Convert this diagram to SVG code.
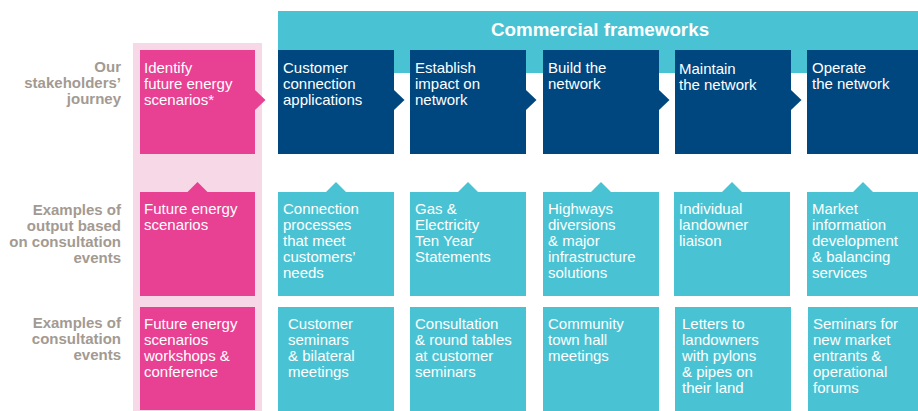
<svg xmlns="http://www.w3.org/2000/svg" width="918" height="411" viewBox="0 0 918 411">
<style>
.lbl{font-family:"Liberation Sans",Arial,sans-serif;font-weight:bold;font-size:15px;fill:#A39A92;text-anchor:end}
.t{font-family:"Liberation Sans",Arial,sans-serif;font-size:15px;fill:#FFFFFF}
.ttl{font-family:"Liberation Sans",Arial,sans-serif;font-weight:bold;font-size:18.8px;fill:#FFFFFF;text-anchor:middle}
.pink{fill:#E84093}
.navy{fill:#00477F}
.cyan{fill:#49C3D3}
</style>
<rect width="918" height="411" fill="#FFFFFF"/>
<g id="pink-column"><rect x="133" y="43" width="129" height="368" fill="#F7D8E7"/></g>
<g id="commercial-frameworks">
<rect x="278" y="11" width="640" height="62" class="cyan"/>
<text x="600" y="36" class="ttl">Commercial frameworks</text>
</g>
<g id="labels">
<text class="lbl"><tspan x="121" y="72">Our</tspan><tspan x="121" y="88">stakeholders’</tspan><tspan x="121" y="104">journey</tspan></text>
<text class="lbl"><tspan x="121" y="215">Examples of</tspan><tspan x="121" y="231">output based</tspan><tspan x="121" y="247">on consultation</tspan><tspan x="121" y="263">events</tspan></text>
<text class="lbl"><tspan x="121" y="328">Examples of</tspan><tspan x="121" y="344">consultation</tspan><tspan x="121" y="360">events</tspan></text>
</g>
<g id="connectors">
<polygon class="pink" points="255,90 265.5,100 255,110"/>
<polygon class="navy" points="394,90 404.5,100 394,110"/>
<polygon class="navy" points="526,90 536.5,100 526,110"/>
<polygon class="navy" points="659,90 669.5,100 659,110"/>
<polygon class="navy" points="791,90 801.5,100 791,110"/>
<polygon class="pink" points="187.5,192 197.5,182 207.5,192"/>
<polygon class="cyan" points="326,192 336,182 346,192"/>
<polygon class="cyan" points="458,192 468,182 478,192"/>
<polygon class="cyan" points="591,192 601,182 611,192"/>
<polygon class="cyan" points="722,192 732,182 742,192"/>
<polygon class="cyan" points="853,192 863,182 873,192"/>
</g>
<g id="n-identify"><rect x="140" y="50" width="115" height="104" class="pink"/><text class="t"><tspan x="144" y="73">Identify</tspan><tspan x="144" y="89">future energy</tspan><tspan x="144" y="105">scenarios*</tspan></text></g>
<g id="n-customer-connection"><rect x="278" y="50" width="116" height="104" class="navy"/><text class="t"><tspan x="283" y="73">Customer</tspan><tspan x="283" y="89">connection</tspan><tspan x="283" y="105">applications</tspan></text></g>
<g id="n-establish"><rect x="410" y="50" width="116" height="104" class="navy"/><text class="t"><tspan x="415" y="73">Establish</tspan><tspan x="415" y="89">impact on</tspan><tspan x="415" y="105">network</tspan></text></g>
<g id="n-build"><rect x="543" y="50" width="116" height="104" class="navy"/><text class="t"><tspan x="548" y="73">Build the</tspan><tspan x="548" y="89">network</tspan></text></g>
<g id="n-maintain"><rect x="675" y="50" width="116" height="104" class="navy"/><text class="t"><tspan x="679" y="74">Maintain</tspan><tspan x="679" y="90">the network</tspan></text></g>
<g id="n-operate"><rect x="807" y="50" width="111" height="104" class="navy"/><text class="t"><tspan x="812" y="73">Operate</tspan><tspan x="812" y="89">the network</tspan></text></g>

<g id="o-fes"><rect x="140" y="192" width="115" height="104" class="pink"/><text class="t"><tspan x="144" y="214">Future energy</tspan><tspan x="144" y="230">scenarios</tspan></text></g>
<g id="o-connection"><rect x="278" y="192" width="116" height="104" class="cyan"/><text class="t"><tspan x="283" y="214">Connection</tspan><tspan x="283" y="230">processes</tspan><tspan x="283" y="246">that meet</tspan><tspan x="283" y="262">customers’</tspan><tspan x="283" y="278">needs</tspan></text></g>
<g id="o-gas"><rect x="410" y="192" width="116" height="104" class="cyan"/><text class="t"><tspan x="415" y="214">Gas &amp;</tspan><tspan x="415" y="230">Electricity</tspan><tspan x="415" y="246">Ten Year</tspan><tspan x="415" y="262">Statements</tspan></text></g>
<g id="o-highways"><rect x="543" y="192" width="116" height="104" class="cyan"/><text class="t"><tspan x="548" y="214">Highways</tspan><tspan x="548" y="230">diversions</tspan><tspan x="548" y="246">&amp; major</tspan><tspan x="548" y="262">infrastructure</tspan><tspan x="548" y="278">solutions</tspan></text></g>
<g id="o-landowner"><rect x="674" y="192" width="116" height="104" class="cyan"/><text class="t"><tspan x="679" y="214">Individual</tspan><tspan x="679" y="230">landowner</tspan><tspan x="679" y="246">liaison</tspan></text></g>
<g id="o-market"><rect x="807" y="192" width="111" height="104" class="cyan"/><text class="t"><tspan x="812" y="214">Market</tspan><tspan x="812" y="230">information</tspan><tspan x="812" y="246">development</tspan><tspan x="812" y="262">&amp; balancing</tspan><tspan x="812" y="278">services</tspan></text></g>

<g id="e-fes"><rect x="140" y="307" width="115" height="103" class="pink"/><text class="t"><tspan x="144" y="329">Future energy</tspan><tspan x="144" y="345">scenarios</tspan><tspan x="144" y="361">workshops &amp;</tspan><tspan x="144" y="377">conference</tspan></text></g>
<g id="e-customer"><rect x="278" y="307" width="116" height="104" class="cyan"/><text class="t"><tspan x="288" y="329">Customer</tspan><tspan x="288" y="345">seminars</tspan><tspan x="288" y="361">&amp; bilateral</tspan><tspan x="288" y="377">meetings</tspan></text></g>
<g id="e-consultation"><rect x="410" y="307" width="116" height="104" class="cyan"/><text class="t"><tspan x="415" y="329">Consultation</tspan><tspan x="415" y="345">&amp; round tables</tspan><tspan x="415" y="361">at customer</tspan><tspan x="415" y="377">seminars</tspan></text></g>
<g id="e-community"><rect x="543" y="307" width="116" height="104" class="cyan"/><text class="t"><tspan x="548" y="329">Community</tspan><tspan x="548" y="345">town hall</tspan><tspan x="548" y="361">meetings</tspan></text></g>
<g id="e-letters"><rect x="675" y="307" width="116" height="104" class="cyan"/><text class="t"><tspan x="682" y="329">Letters to</tspan><tspan x="682" y="345">landowners</tspan><tspan x="682" y="361">with pylons</tspan><tspan x="682" y="377">&amp; pipes on</tspan><tspan x="682" y="393">their land</tspan></text></g>
<g id="e-seminars"><rect x="808" y="307" width="110" height="104" class="cyan"/><text class="t"><tspan x="813" y="329">Seminars for</tspan><tspan x="813" y="345">new market</tspan><tspan x="813" y="361">entrants &amp;</tspan><tspan x="813" y="377">operational</tspan><tspan x="813" y="393">forums</tspan></text></g>
</svg>
